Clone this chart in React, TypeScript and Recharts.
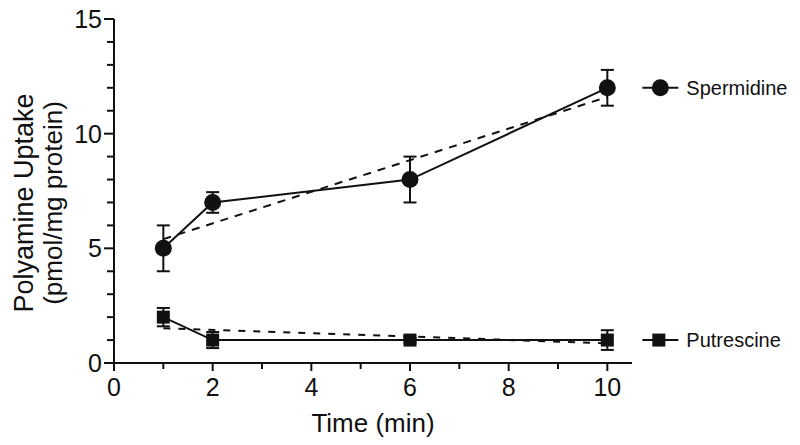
import React from 'react';
import { ComposedChart, Line, XAxis, YAxis, ErrorBar, LabelList } from 'recharts';

const time = [1, 2, 6, 10];
const spermidine = [5, 7, 8, 12];
const spermidineErr = [1, 0.45, 1, 0.78];
const putrescine = [2, 1, 1, 1];
const putrescineErr = [0.4, 0.35, 0.1, 0.43];
const fitTime = [1, 10];
const spermidineFit = [5.4, 11.6];
const putrescineFit = [1.52, 0.86];
const xTicks = [0, 1, 2, 3, 4, 5, 6, 7, 8, 9, 10];
const yTicks = [0, 1, 2, 3, 4, 5, 6, 7, 8, 9, 10, 11, 12, 13, 14, 15];
const xLabelTicks = [0, 2, 4, 6, 8, 10];
const yLabelTicks = [0, 5, 10, 15];

const FONT = "'Liberation Sans', Arial, Helvetica, sans-serif";
const INK = '#111';

const spermData = time.map((t, i) => ({ x: t, y: spermidine[i], err: spermidineErr[i] }));
const putData = time.map((t, i) => ({ x: t, y: putrescine[i], err: putrescineErr[i] }));
const spermFitData = fitTime.map((t, i) => ({ x: t, y: spermidineFit[i] }));
const putFitData = fitTime.map((t, i) => ({ x: t, y: putrescineFit[i] }));

const XTick = (props: any) => {
  const { x, y, payload } = props;
  const major = xLabelTicks.includes(payload.value);
  return (
    <g>
      <line x1={x} y1={y} x2={x} y2={y + (major ? 8 : 6)} stroke={INK} strokeWidth={2} />
      {major && (
        <text x={x} y={y + 33} textAnchor="middle" fontSize={25} fontFamily={FONT} fill={INK}>
          {payload.value}
        </text>
      )}
    </g>
  );
};

const YTick = (props: any) => {
  const { x, y, payload } = props;
  const major = yLabelTicks.includes(payload.value);
  return (
    <g>
      <line x1={x} y1={y} x2={x - (major ? 10 : 7)} y2={y} stroke={INK} strokeWidth={2} />
      {major && (
        <text x={x - 12} y={y + 9} textAnchor="end" fontSize={25} fontFamily={FONT} fill={INK}>
          {payload.value}
        </text>
      )}
    </g>
  );
};

const YLabel = (props: any) => {
  const vb = props.viewBox || { x: 0, y: 19, width: 114, height: 344 };
  const cy = vb.y + vb.height / 2 + 12;
  const x1 = vb.x + 33;
  const x2 = vb.x + 62;
  return (
    <g>
      <text x={x1} y={cy} transform={`rotate(-90 ${x1} ${cy})`} textAnchor="middle" fontSize={27} fontFamily={FONT} fill={INK}>
        Polyamine Uptake
      </text>
      <text x={x2} y={cy} transform={`rotate(-90 ${x2} ${cy})`} textAnchor="middle" fontSize={26} fontFamily={FONT} fill={INK}>
        (pmol/mg protein)
      </text>
    </g>
  );
};

const XLabel = (props: any) => {
  const vb = props.viewBox || { x: 114, y: 363, width: 518, height: 82 };
  return (
    <text x={vb.x + vb.width / 2} y={vb.y + 69} textAnchor="middle" fontSize={26} fontFamily={FONT} fill={INK}>
      Time (min)
    </text>
  );
};

const makeLegendLabel = (name: string, shape: 'circle' | 'square', lastIndex: number) => (props: any) => {
  const { x, y, index } = props;
  if (index !== lastIndex) return null;
  return (
    <g>
      <line x1={x + 35} y1={y} x2={x + 71} y2={y} stroke={INK} strokeWidth={2} />
      {shape === 'circle' ? (
        <circle cx={x + 53} cy={y} r={8.5} fill={INK} />
      ) : (
        <rect x={x + 45} y={y - 6.5} width={13} height={13} fill={INK} />
      )}
      <text x={x + 79} y={y + 7} fontSize={20} fontFamily={FONT} fill={INK}>
        {name}
      </text>
    </g>
  );
};

const SquareDot = (props: any) => {
  const { cx, cy, index } = props;
  if (cx == null || cy == null) return null;
  return <rect key={`sq-${index}`} x={cx - 6.5} y={cy - 6.5} width={13} height={13} fill={INK} />;
};

export default function App() {
  return (
    <div style={{ position: 'absolute', left: 0, top: 0, background: '#fff' }}>
      <ComposedChart width={800} height={445} margin={{ top: 19, right: 168, bottom: 0, left: 0 }}>
        <XAxis
          type="number"
          dataKey="x"
          domain={[0, 10.5]}
          ticks={xTicks}
          interval={0}
          height={82}
          tickSize={0}
          tickMargin={0}
          tickLine={false}
          axisLine={{ stroke: INK, strokeWidth: 2 }}
          tick={<XTick />}
          label={<XLabel />}
          allowDataOverflow
        />
        <YAxis
          type="number"
          domain={[0, 15]}
          ticks={yTicks}
          interval={0}
          width={114}
          tickSize={0}
          tickMargin={0}
          tickLine={false}
          axisLine={{ stroke: INK, strokeWidth: 2 }}
          tick={<YTick />}
          label={<YLabel />}
          allowDataOverflow
        />
        <Line
          data={spermFitData}
          dataKey="y"
          stroke={INK}
          strokeWidth={2}
          strokeDasharray="8 7"
          dot={false}
          activeDot={false}
          isAnimationActive={false}
        />
        <Line
          data={putFitData}
          dataKey="y"
          stroke={INK}
          strokeWidth={2}
          strokeDasharray="7 8"
          dot={false}
          activeDot={false}
          isAnimationActive={false}
        />
        <Line
          data={spermData}
          dataKey="y"
          stroke={INK}
          strokeWidth={2}
          dot={{ r: 8.5, fill: INK, stroke: INK, strokeWidth: 0 }}
          activeDot={false}
          isAnimationActive={false}
        >
          <ErrorBar dataKey="err" width={6.5} stroke={INK} strokeWidth={2} direction="y" isAnimationActive={false} />
          <LabelList dataKey="y" content={makeLegendLabel('Spermidine', 'circle', spermData.length - 1)} />
        </Line>
        <Line
          data={putData}
          dataKey="y"
          stroke={INK}
          strokeWidth={2}
          dot={<SquareDot />}
          activeDot={false}
          isAnimationActive={false}
        >
          <ErrorBar dataKey="err" width={6.5} stroke={INK} strokeWidth={2} direction="y" isAnimationActive={false} />
          <LabelList dataKey="y" content={makeLegendLabel('Putrescine', 'square', putData.length - 1)} />
        </Line>
      </ComposedChart>
    </div>
  );
}
